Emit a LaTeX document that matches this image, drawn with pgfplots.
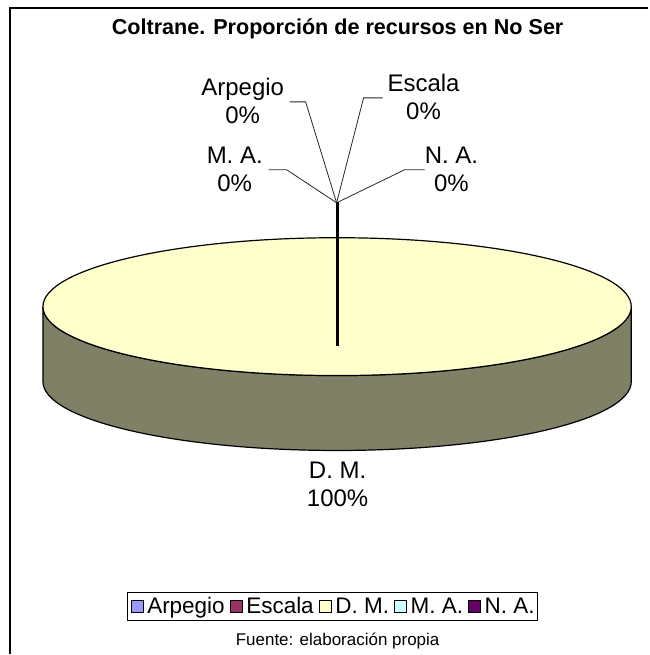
\documentclass[border=0pt]{standalone}
\usepackage{pgfplots}
\pgfplotsset{compat=1.18}
\usepackage{fontspec}
\setmainfont{Liberation Sans}
\definecolor{arp}{HTML}{9999FF}
\definecolor{esc}{HTML}{993366}
\definecolor{dm}{HTML}{FFFFCC}
\definecolor{ma}{HTML}{CCFFFF}
\definecolor{na}{HTML}{660066}
\definecolor{dmside}{HTML}{808066}
\begin{document}
\begin{tikzpicture}
\begin{axis}[
  scale only axis, width=649pt, height=655pt,
  xmin=0, xmax=649, ymin=0, ymax=655,
  hide axis, clip=false,
  legend columns=5,
  legend style={at={(axis cs:333,48)}, anchor=center, draw=black, line width=0.8pt,
    font=\fontsize{22.5}{24}\selectfont, inner xsep=3pt, inner ysep=3pt,
    nodes={inner xsep=0pt, inner ysep=2pt},
    /tikz/every odd column/.append style={column sep=4pt},
    /tikz/every even column/.append style={column sep=5pt}},
  legend image code/.code={\draw[#1, line width=0.6pt] (0pt,-6pt) rectangle (12pt,6pt);},
]
\path (axis cs:0,0) (axis cs:649,655);
% frame
\draw[line width=1.5pt] (axis cs:10,0) -- (axis cs:10,647) -- (axis cs:649,647);
% pie: D. M. = 100 %, others 0 %
\filldraw[fill=dmside, draw=black, line width=1.2pt] (axis cs:43,348) -- (axis cs:43,273)
  arc[start angle=180, end angle=360, x radius=294.5, y radius=69]
  -- (axis cs:632,348)
  arc[start angle=0, end angle=-180, x radius=294.5, y radius=69] -- cycle;
\filldraw[fill=dm, draw=black, line width=1.2pt] (axis cs:337.5,348) ellipse [x radius=294.5, y radius=69];
% leader lines
\draw[line width=2.5pt] (axis cs:338,453) -- (axis cs:338,309);
\draw[line width=0.8pt, black!85] (axis cs:290,553) -- (axis cs:306,553) -- (axis cs:337,452);
\draw[line width=0.8pt, black!85] (axis cs:383,557) -- (axis cs:364,557) -- (axis cs:337,452);
\draw[line width=0.8pt, black!85] (axis cs:269,485) -- (axis cs:287,485) -- (axis cs:337,452);
\draw[line width=0.8pt, black!85] (axis cs:425,485) -- (axis cs:405,485) -- (axis cs:337,452);
% labels
\node[align=center, font=\fontsize{24}{28}\selectfont] at (axis cs:243,554) {Arpegio\\0\%};
\node[align=center, font=\fontsize{24}{28}\selectfont] at (axis cs:424,558) {Escala\\0\%};
\node[align=center, font=\fontsize{24}{28}\selectfont] at (axis cs:235,485) {M. A.\\0\%};
\node[align=center, font=\fontsize{24}{28}\selectfont] at (axis cs:452,485) {N. A.\\0\%};
\node[align=center, font=\fontsize{24}{28}\selectfont] at (axis cs:338,170) {D. M.\\100\%};
% title and source
\node[font=\bfseries\fontsize{21.6}{24}\selectfont] at (axis cs:338,626) {Coltrane. Proporción de recursos en No Ser};
\node[font=\fontsize{17}{18}\selectfont] at (axis cs:338,13) {Fuente: elaboración propia};
% legend
\addlegendimage{draw=black, fill=arp}
\addlegendentry{Arpegio}
\addlegendimage{draw=black, fill=esc}
\addlegendentry{Escala}
\addlegendimage{draw=black, fill=dm}
\addlegendentry{D. M.}
\addlegendimage{draw=black, fill=ma}
\addlegendentry{M. A.}
\addlegendimage{draw=black, fill=na}
\addlegendentry{N. A.}
\end{axis}
\end{tikzpicture}
\end{document}
